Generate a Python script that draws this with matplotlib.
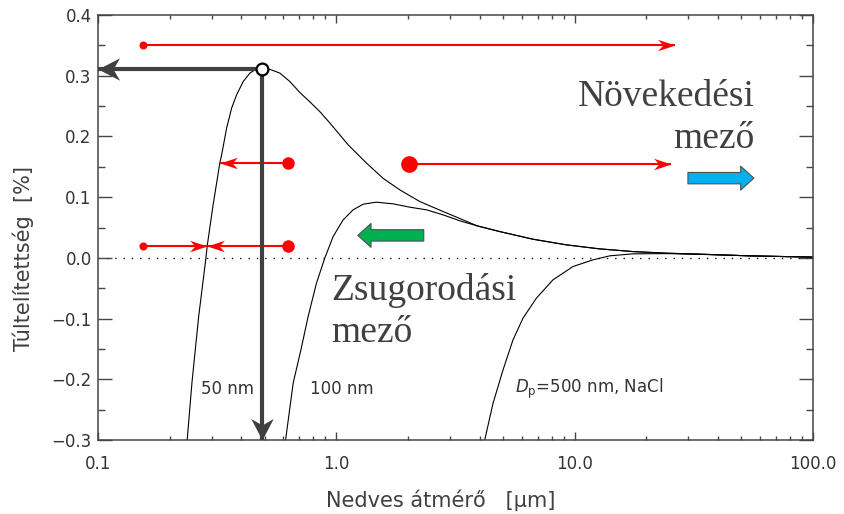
import numpy as np
import matplotlib
matplotlib.use("Agg")
import matplotlib.pyplot as plt
from matplotlib.path import Path
from matplotlib.patches import FancyArrowPatch
from matplotlib.ticker import FixedLocator, FixedFormatter, LogLocator, NullFormatter

# ---------------- data ----------------
# Koehler curves: wet diameter [um] vs supersaturation [%]
d50_x = [0.2367, 0.2478, 0.2644, 0.2837, 0.2873, 0.304, 0.3247, 0.3302, 0.3465, 0.3636,
         0.3816, 0.4066, 0.4338, 0.4553, 0.49, 0.5262, 0.5796, 0.6383, 0.7031, 0.7743,
         0.8527, 0.939, 1.034, 1.121, 1.339, 1.571, 1.846, 2.239, 2.806, 3.40,
         3.90, 4.847, 6.667, 9.23, 12.73, 17.51, 24.23, 33.43, 54.2, 100.0]
d50_y = [-0.300, -0.206, -0.097, 0.000, 0.020, 0.087, 0.157, 0.1697, 0.2137, 0.2466,
         0.2685, 0.2904, 0.3043, 0.3097, 0.3114, 0.3105, 0.3043, 0.2904, 0.2723, 0.257,
         0.2408, 0.2222, 0.2026, 0.1862, 0.156, 0.131, 0.112, 0.0928, 0.0763,
         0.0626, 0.0527, 0.0433, 0.0308, 0.0214, 0.0148, 0.0104, 0.0077, 0.0061, 0.0033,
         0.0012]

d100_x = [0.6124, 0.6592, 0.7101, 0.7614, 0.8253, 0.895, 0.9696, 1.068, 1.176, 1.296,
          1.469, 1.73, 2.03, 2.39, 2.806, 3.30, 3.90, 4.847, 6.667, 9.23, 12.73, 17.51,
          24.23, 33.43, 54.2, 100.0]
d100_y = [-0.300, -0.206, -0.1516, -0.0967, -0.0417, 0.000, 0.0351, 0.0626, 0.0791, 0.0884,
          0.0917, 0.089, 0.0835, 0.0791, 0.0708, 0.061, 0.0527, 0.0433, 0.0308, 0.0214,
          0.0148, 0.0104, 0.0077, 0.0061, 0.0033, 0.0012]

d500_x = [4.194, 4.545, 5.006, 5.512, 6.07, 6.909, 8.11, 9.84, 11.93, 14.03, 17.51,
          24.23, 33.43, 54.2, 100.0]
d500_y = [-0.300, -0.2394, -0.1845, -0.135, -0.0993, -0.0664, -0.0362, -0.0143, -0.0033,
          0.0033, 0.0066, 0.0070, 0.0058, 0.0033, 0.0012]

# critical point (peak of 50 nm curve)
peak_x, peak_y = 0.49, 0.311

# red arrows: start x, end x, y, dot size
red_arrows_start = [0.1544, 0.624, 2.02, 0.1544, 0.624]
red_arrows_end = [26.3, 0.3247, 25.4, 0.286, 0.286]
red_arrows_y = [0.351, 0.157, 0.155, 0.020, 0.020]
red_dot_sizes = [5.8, 9.0, 12.0, 5.8, 9.0]

# block arrows (tail_x, tip_x, y)
green_arrow = (2.327, 1.231, 0.037)
blue_arrow = (29.87, 56.47, 0.1313)

x_ticks = [0.1, 1.0, 10.0, 100.0]
x_ticklabels = ["0.1", "1.0", "10.0", "100.0"]
y_ticks = [-0.3, -0.2, -0.1, 0.0, 0.1, 0.2, 0.3, 0.4]
y_ticklabels = ["\u22120.3", "\u22120.2", "\u22120.1", "0.0", "0.1", "0.2", "0.3", "0.4"]

# ---------------- figure ----------------
fig = plt.figure(figsize=(8.44, 5.14), dpi=100)
ax = fig.add_axes([98 / 844, 74 / 514, 715 / 844, 425 / 514])
ax.set_xscale("log")
ax.set_xlim(0.1, 100)
ax.set_ylim(-0.3, 0.4)

spine_col = "#454545"
for s in ax.spines.values():
    s.set_color(spine_col)
    s.set_linewidth(1.1)

ax.xaxis.set_major_locator(FixedLocator(x_ticks))
ax.xaxis.set_major_formatter(FixedFormatter(x_ticklabels))
ax.xaxis.set_minor_locator(LogLocator(base=10, subs=np.arange(2, 10)))
ax.xaxis.set_minor_formatter(NullFormatter())
ax.yaxis.set_major_locator(FixedLocator(y_ticks))
ax.yaxis.set_major_formatter(FixedFormatter(y_ticklabels))
ax.yaxis.set_minor_locator(FixedLocator(np.arange(-0.25, 0.4, 0.1)))

ax.tick_params(axis="both", which="both", direction="in", top=True, right=True,
               color=spine_col, width=1.0, labelcolor="#333333", labelsize=12)
ax.tick_params(axis="x", which="major", length=6, pad=10.5)
ax.tick_params(axis="x", which="minor", length=3.2)
ax.tick_params(axis="y", which="major", length=10, pad=4.5)
ax.tick_params(axis="y", which="minor", length=5)

# zero line
ax.plot([0.1, 100], [0, 0], color="#111111", lw=1.0, linestyle=(0, (1, 5)), zorder=1)

# curves
for xs, ys in [(d50_x, d50_y), (d100_x, d100_y), (d500_x, d500_y)]:
    ax.plot(xs, ys, color="black", lw=0.8, zorder=2)


def stealth(direction, w, notch):
    verts = np.array([(0, 0), (-1, w), (-notch, 0), (-1, -w), (0, 0)], dtype=float)
    if direction == "left":
        verts[:, 0] *= -1
    elif direction == "down":
        verts = np.column_stack([verts[:, 1], -verts[:, 0]])
    codes = [Path.MOVETO, Path.LINETO, Path.LINETO, Path.LINETO, Path.CLOSEPOLY]
    return Path(verts, codes)


red = "#ff0000"
for xs, xe, yy, ds in zip(red_arrows_start, red_arrows_end, red_arrows_y, red_dot_sizes):
    ax.plot([xs, xe], [yy, yy], color=red, lw=1.5, solid_capstyle="butt", zorder=4)
    d = "right" if xe > xs else "left"
    ax.plot([xe], [yy], marker=stealth(d, 0.33, 0.7), markersize=25, color=red,
            markeredgewidth=0, zorder=4)
    ax.plot([xs], [yy], marker="o", markersize=ds, color=red, markeredgewidth=0, zorder=5)

# dark gray arrows from critical point
gray = "#404040"
ax.plot([peak_x, 0.1], [peak_y, peak_y], color=gray, lw=3, solid_capstyle="butt",
        zorder=5, clip_on=False)
ax.plot([0.1], [peak_y], marker=stealth("left", 0.52, 0.7), markersize=31, color=gray,
        markeredgewidth=0, zorder=5, clip_on=False)
ax.plot([peak_x, peak_x], [peak_y, -0.3], color=gray, lw=3, solid_capstyle="butt",
        zorder=5, clip_on=False)
ax.plot([peak_x], [-0.3], marker=stealth("down", 0.52, 0.7), markersize=31, color=gray,
        markeredgewidth=0, zorder=5, clip_on=False)
ax.plot([peak_x], [peak_y], marker="o", markersize=8.5, markerfacecolor="white",
        markeredgecolor="black", markeredgewidth=1.6, zorder=6)

# block arrows
for (xt, xh, yy), fc in [(green_arrow, "#00b050"), (blue_arrow, "#00b0f0")]:
    pa = FancyArrowPatch((xt, yy), (xh, yy),
                         arrowstyle="simple,head_length=9.5,head_width=17.2,tail_width=8.2",
                         mutation_scale=1, shrinkA=0, shrinkB=0, facecolor=fc,
                         edgecolor="#505050", linewidth=0.8, zorder=5)
    ax.add_patch(pa)

# texts
serif = ["Liberation Serif", "DejaVu Serif"]
big_col = "#404040"
ax.text(56.9, 0.2493, "Növekedési", family=serif, fontsize=27, color=big_col,
        ha="right", va="baseline")
ax.text(56.9, 0.1807, "mező", family=serif, fontsize=27, color=big_col,
        ha="right", va="baseline")
ax.text(0.9547, -0.0692, "Zsugorodási", family=serif, fontsize=27, color=big_col,
        ha="left", va="baseline")
ax.text(0.9547, -0.1379, "mező", family=serif, fontsize=27, color=big_col,
        ha="left", va="baseline")

small_col = "#333333"
ax.text(0.2696, -0.224, "50 nm", fontsize=12, color=small_col, ha="left", va="baseline")
ax.text(0.774, -0.224, "100 nm", fontsize=12, color=small_col, ha="left", va="baseline")
ax.text(5.603, -0.223, r"$D_\mathrm{p}$=500 nm, NaCl", fontsize=12, color=small_col,
        ha="left", va="baseline")

# axis labels
ax.set_xlabel("Nedves átmérő   [μm]", fontsize=15, color="#404040")
ax.xaxis.set_label_coords(0.4797, -0.157)
ax.xaxis.label.set_verticalalignment("baseline")
ax.set_ylabel("Túltelítettség  [%]", fontsize=15, color="#404040")
ax.yaxis.set_label_coords(-0.0951, 0.426)
ax.yaxis.label.set_verticalalignment("baseline")

fig.savefig("out.png", dpi=100, facecolor="white")
